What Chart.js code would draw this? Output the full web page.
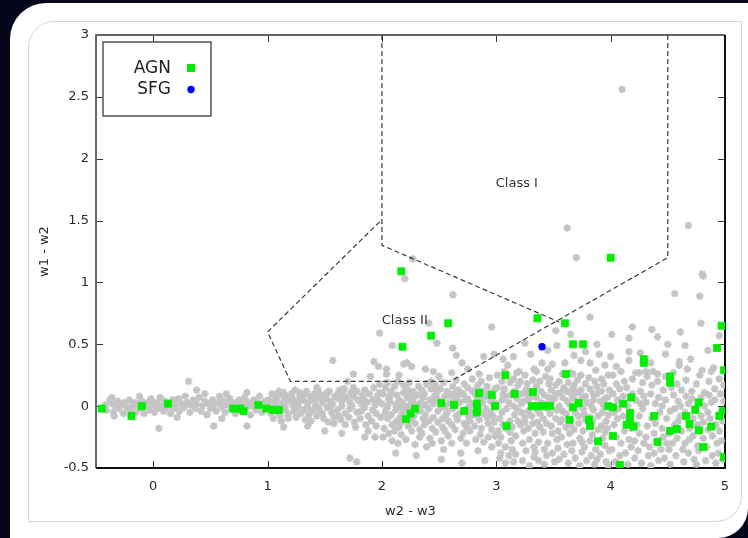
<!DOCTYPE html>
<html>
<head>
<meta charset="utf-8">
<title>WISE colour-colour diagram</title>
<script src="https://cdn.jsdelivr.net/npm/chart.js"></script>
<style>
    html, body {
        margin: 0;
        padding: 0;
    }
    body {
        width: 748px;
        height: 538px;
        position: relative;
        overflow: hidden;
        background-color: #06061a;
        font-family: 'DejaVu Sans', sans-serif;
    }
    #panel {
        position: absolute;
        left: 10px;
        top: 3px;
        width: 738px;
        height: 535px;
        background: #fff;
        border-radius: 36px 0 30px 0;
    }
    #inner {
        position: absolute;
        left: 28px;
        top: 21px;
        width: 714px;
        height: 501px;
        box-sizing: border-box;
        border: 1px solid #d6d6d6;
        border-radius: 26px 0 26px 0;
    }
    #plot {
        position: absolute;
        left: 0;
        top: 0;
    }
</style>
</head>
<body>
<div id="panel"></div>
<div id="inner"></div>
<canvas id="plot" width="748" height="538"></canvas>
<script>
    // axis ticks
    const xTicks = [0, 1, 2, 3, 4, 5];
    const yTicks = [-0.5, 0, 0.5, 1, 1.5, 2, 2.5, 3];

    // AGN sample (w2-w3, w1-w2)
    const agnPoints = [
        [-0.45, -0.02], [-0.19, -0.08], [-0.10, 0.0], [0.13, 0.02], [0.70, -0.02], [0.76, -0.02],
        [0.79, -0.04], [0.92, 0.01], [0.99, -0.02], [1.05, -0.03], [1.10, -0.03],
        [2.17, 1.09], [2.18, 0.48], [2.43, 0.57], [2.58, 0.67], [3.36, 0.71], [3.60, 0.67],
        [3.67, 0.50], [3.76, 0.50], [4.00, 1.20], [4.97, 0.65], [4.93, 0.47], [4.99, 0.29],
        [4.29, 0.38], [4.29, 0.35], [4.52, 0.24], [4.52, 0.19], [3.08, 0.25], [3.61, 0.26],
        [2.21, -0.105], [2.25, -0.06], [2.29, -0.02], [2.52, 0.025], [2.63, 0.01], [2.72, -0.04],
        [2.83, 0.02], [2.83, -0.02], [2.83, -0.05], [2.85, 0.105], [2.96, 0.09], [2.99, 0.0],
        [3.09, -0.16], [3.16, 0.10], [3.32, 0.115], [3.31, 0.0], [3.36, 0.0], [3.42, 0.0],
        [3.47, 0.0], [3.64, -0.11], [3.67, -0.01], [3.72, 0.025], [3.81, -0.11], [3.82, -0.16],
        [3.89, -0.285], [3.98, 0.0], [4.02, -0.01], [4.02, -0.24], [4.08, -0.475], [4.11, 0.02],
        [4.18, 0.07], [4.17, -0.055], [4.17, -0.105], [4.14, -0.15], [4.20, -0.165], [4.38, -0.08],
        [4.41, -0.29], [4.52, -0.20], [4.58, -0.185], [4.66, -0.08], [4.69, -0.145], [4.74, -0.03],
        [4.77, 0.03], [4.77, -0.195], [4.81, -0.33], [4.88, -0.165], [4.95, -0.08], [4.98, -0.04],
        [4.99, -0.41]
    ];

    // SFG sample
    const sfgPoints = [[3.40, 0.48]];

    // comparison field sources, split by w2-w3 range
    const fieldBand = [
        [-0.42, 0.01], [-0.41, -0.03], [-0.38, 0.05], [-0.36, 0.02], [-0.35, -0.05], [-0.33, 0.0], [-0.31, 0.04],
        [-0.30, -0.02], [-0.28, 0.01], [-0.26, -0.06], [-0.25, 0.03], [-0.23, -0.01], [-0.21, 0.05], [-0.20, -0.03],
        [-0.18, 0.0], [-0.16, 0.03], [-0.15, -0.05], [-0.13, 0.01], [-0.11, -0.02], [-0.10, 0.04], [-0.08, -0.06],
        [-0.07, 0.0], [-0.05, 0.03], [-0.03, -0.03], [-0.02, 0.06], [0.00, 0.01], [0.01, -0.05], [0.03, 0.03],
        [0.04, -0.02], [0.06, 0.07], [0.07, 0.0], [0.09, -0.04], [0.10, 0.04], [0.12, -0.01], [0.14, 0.02],
        [0.15, -0.06], [0.17, 0.05], [0.18, -0.02], [0.20, 0.01], [0.22, 0.06], [0.23, -0.04], [0.25, 0.02],
        [0.27, -0.01], [0.28, 0.08], [0.30, 0.03], [0.32, -0.05], [0.33, 0.01], [0.35, 0.05], [0.37, -0.02],
        [0.38, 0.02], [0.40, 0.07], [0.42, -0.04], [0.43, 0.0], [0.45, 0.04], [0.47, -0.07], [0.48, 0.02],
        [0.50, -0.02], [0.52, 0.05], [0.53, 0.0], [0.55, -0.04], [0.57, 0.03], [0.58, 0.08], [0.60, -0.01],
        [0.62, 0.04], [0.63, -0.05], [0.65, 0.01], [0.67, 0.06], [0.68, -0.02], [0.70, 0.03], [0.72, -0.06],
        [0.73, 0.0], [0.75, 0.05], [0.77, -0.03], [0.78, 0.02], [0.80, 0.07], [0.82, -0.01], [0.83, 0.03],
        [0.85, -0.07], [0.87, 0.0], [0.88, 0.05], [0.90, -0.03], [0.92, 0.02], [0.93, 0.08], [0.95, -0.05],
        [0.97, 0.01], [0.98, 0.04], [-0.36, 0.07], [-0.34, -0.08], [0.31, 0.20], [0.38, 0.13], [0.05, -0.18],
        [0.53, -0.16], [0.82, -0.16], [0.64, 0.10], [0.82, 0.11], [0.21, -0.09], [-0.12, 0.08], [0.60, -0.10],
        [0.45, 0.10]
    ];

    const fieldWide = [
        [1.01, 0.05], [1.03, -0.06], [1.02, 0.0], [1.04, 0.10], [1.05, -0.10], [1.06, 0.03], [1.05, -0.02], [1.07, 0.08],
        [1.08, 0.06], [1.09, -0.05], [1.10, 0.12], [1.08, -0.01], [1.12, 0.02], [1.11, -0.08], [1.13, 0.09], [1.12, -0.12],
        [1.15, 0.05], [1.16, -0.03], [1.14, 0.11], [1.15, 0.0], [1.18, -0.07], [1.19, 0.04], [1.17, 0.08], [1.18, -0.10],
        [1.22, 0.01], [1.21, 0.10], [1.23, -0.04], [1.22, 0.06], [1.25, -0.09], [1.26, 0.03], [1.24, 0.13], [1.25, -0.02],
        [1.28, 0.07], [1.29, -0.06], [1.27, 0.0], [1.28, 0.11], [1.32, -0.03], [1.31, 0.05], [1.33, -0.11], [1.32, 0.09],
        [1.35, 0.02], [1.36, -0.07], [1.34, 0.12], [1.35, -0.01], [1.38, 0.08], [1.39, -0.04], [1.37, 0.04], [1.38, -0.12],
        [1.42, 0.0], [1.41, 0.10], [1.43, -0.08], [1.42, 0.05], [1.45, -0.05], [1.46, 0.07], [1.44, 0.13], [1.45, -0.02],
        [1.48, 0.03], [1.49, -0.10], [1.47, 0.09], [1.48, -0.06], [1.52, -0.01], [1.51, 0.06], [1.53, -0.13], [1.52, 0.11],
        [1.55, 0.04], [1.56, -0.05], [1.54, 0.12], [1.55, 0.0], [1.58, -0.09], [1.59, 0.08], [1.57, 0.02], [1.58, -0.14],
        [1.62, 0.06], [1.61, -0.03], [1.63, 0.13], [1.62, -0.08], [1.65, 0.0], [1.66, 0.10], [1.64, -0.11], [1.65, 0.04],
        [1.68, -0.06], [1.69, 0.07], [1.67, 0.14], [1.68, -0.15], [1.72, 0.03], [1.71, -0.09], [1.73, 0.11], [1.72, -0.02],
        [1.75, 0.08], [1.76, -0.13], [1.74, 0.0], [1.75, 0.15], [1.78, -0.05], [1.79, 0.05], [1.77, -0.17], [1.78, 0.12],
        [1.82, 0.02], [1.81, -0.10], [1.83, 0.09], [1.82, -0.04], [1.85, 0.13], [1.86, -0.15], [1.84, 0.06], [1.85, -0.01],
        [1.88, -0.08], [1.89, 0.10], [1.87, 0.03], [1.88, -0.20], [1.92, 0.05], [1.91, -0.12], [1.93, 0.15], [1.92, -0.03],
        [1.95, -0.06], [1.96, 0.08], [1.94, 0.01], [1.95, -0.16], [1.98, 0.11], [1.99, -0.09], [1.97, 0.04], [1.98, 0.18],
        [1.14, -0.17], [1.43, 0.15], [1.52, 0.10], [1.57, 0.37], [1.62, 0.11], [1.75, 0.26], [1.72, -0.42], [1.78, -0.45],
        [1.85, -0.25], [1.94, -0.25], [1.93, 0.36], [1.97, 0.32], [1.98, 0.59], [1.50, -0.20], [1.65, -0.22], [1.35, -0.16],
        [1.70, 0.20], [1.90, 0.24]
    ];

    const fieldCore = [
        [2.01, 0.10], [2.03, -0.05], [2.02, -0.18], [2.00, 0.02], [2.03, 0.15], [2.01, -0.25],
        [2.05, -0.10], [2.06, 0.06], [2.04, -0.02], [2.05, 0.19], [2.06, -0.22], [2.05, 0.0],
        [2.08, 0.12], [2.09, -0.15], [2.07, 0.04], [2.08, -0.07], [2.09, -0.28], [2.07, 0.08],
        [2.12, -0.03], [2.11, 0.16], [2.13, -0.12], [2.12, 0.01], [2.11, -0.20], [2.13, 0.09],
        [2.15, 0.05], [2.16, -0.09], [2.14, 0.20], [2.15, -0.17], [2.16, -0.01], [2.14, -0.30],
        [2.18, -0.06], [2.19, 0.11], [2.17, -0.23], [2.18, 0.03], [2.19, 0.17], [2.17, -0.13],
        [2.22, 0.07], [2.21, -0.02], [2.23, -0.16], [2.22, 0.14], [2.21, -0.27], [2.23, 0.0],
        [2.25, -0.11], [2.26, 0.04], [2.24, 0.19], [2.25, -0.05], [2.26, -0.20], [2.24, 0.10],
        [2.28, 0.02], [2.29, -0.14], [2.27, 0.12], [2.28, -0.08], [2.29, -0.31], [2.27, 0.06],
        [2.32, -0.04], [2.31, 0.09], [2.33, -0.19], [2.32, 0.16], [2.31, 0.0], [2.33, -0.25],
        [2.35, 0.13], [2.36, -0.10], [2.34, 0.03], [2.35, -0.22], [2.36, 0.07], [2.34, -0.03],
        [2.38, -0.07], [2.39, 0.18], [2.37, -0.15], [2.38, 0.01], [2.39, -0.33], [2.37, 0.10],
        [2.42, 0.05], [2.41, -0.12], [2.43, 0.14], [2.42, -0.26], [2.41, -0.02], [2.43, 0.20],
        [2.45, -0.09], [2.46, 0.08], [2.44, -0.18], [2.45, 0.02], [2.46, 0.15], [2.44, -0.30],
        [2.48, 0.11], [2.49, -0.04], [2.47, -0.21], [2.48, 0.06], [2.49, -0.13], [2.47, 0.17],
        [2.52, -0.01], [2.51, 0.14], [2.53, -0.10], [2.52, -0.28], [2.51, 0.04], [2.53, -0.17],
        [2.55, 0.08], [2.56, -0.07], [2.54, 0.19], [2.55, -0.20], [2.56, 0.0], [2.54, -0.35],
        [2.58, -0.12], [2.59, 0.03], [2.57, 0.12], [2.58, -0.24], [2.59, 0.09], [2.57, -0.05],
        [2.62, 0.16], [2.61, -0.15], [2.63, 0.05], [2.62, -0.02], [2.61, -0.30], [2.63, 0.10],
        [2.65, -0.08], [2.66, 0.07], [2.64, -0.19], [2.65, 0.21], [2.66, -0.11], [2.64, 0.0],
        [2.68, 0.03], [2.69, -0.26], [2.67, 0.13], [2.68, -0.06], [2.69, -0.38], [2.67, 0.09],
        [2.72, -0.14], [2.71, 0.10], [2.73, -0.03], [2.72, 0.18], [2.71, -0.22], [2.73, 0.05],
        [2.75, 0.06], [2.76, -0.09], [2.74, -0.30], [2.75, 0.15], [2.76, -0.01], [2.74, -0.17],
        [2.78, -0.05], [2.79, 0.12], [2.77, -0.20], [2.78, 0.02], [2.79, 0.22], [2.77, -0.12],
        [2.82, 0.09], [2.81, -0.16], [2.83, 0.04], [2.82, -0.27], [2.81, -0.07], [2.83, 0.14],
        [2.85, -0.02], [2.86, -0.23], [2.84, 0.17], [2.85, -0.11], [2.86, 0.06], [2.84, -0.36],
        [2.88, 0.12], [2.89, -0.06], [2.87, -0.18], [2.88, 0.03], [2.89, -0.29], [2.87, 0.20],
        [2.92, -0.09], [2.91, 0.08], [2.93, -0.14], [2.92, 0.16], [2.91, -0.02], [2.93, -0.25],
        [2.95, 0.04], [2.96, -0.19], [2.94, 0.11], [2.95, -0.05], [2.96, -0.33], [2.94, 0.23],
        [2.98, -0.13], [2.99, 0.14], [2.97, -0.08], [2.98, 0.01], [2.99, -0.24], [2.97, 0.07],
        [2.09, 0.49], [2.19, 0.34], [2.26, 0.32], [2.04, 0.30], [2.04, 0.26], [2.27, 1.19], [2.20, 1.03],
        [2.62, 0.90], [2.96, 0.64], [2.41, 0.67], [2.48, 0.51], [2.62, 0.47], [2.65, 0.41], [2.22, 0.35],
        [2.38, 0.30], [2.61, 0.27], [2.89, 0.40], [2.98, 0.42], [2.50, 0.24], [2.75, 0.30], [2.85, 0.26],
        [2.30, -0.40], [2.52, -0.43], [2.70, -0.46], [2.90, -0.44], [2.12, -0.38], [2.45, 0.28], [2.70, 0.35],
        [2.15, 0.25]
    ];

    const fieldWing = [
        [3.01, 0.15], [3.03, -0.10], [3.02, -0.30], [3.00, 0.02], [3.03, -0.42], [3.01, 0.25], [3.02, -0.20],
        [3.05, -0.05], [3.06, 0.10], [3.04, -0.25], [3.05, 0.20], [3.06, -0.15], [3.04, -0.38], [3.05, 0.05],
        [3.08, 0.08], [3.09, -0.18], [3.07, 0.28], [3.08, -0.33], [3.09, -0.02], [3.07, 0.14], [3.08, -0.46],
        [3.12, -0.12], [3.11, 0.03], [3.13, -0.28], [3.12, 0.19], [3.11, -0.40], [3.13, 0.09], [3.12, -0.21],
        [3.15, 0.22], [3.16, -0.07], [3.14, -0.35], [3.15, 0.0], [3.16, 0.12], [3.14, -0.17], [3.15, -0.45],
        [3.18, -0.02], [3.19, 0.17], [3.17, -0.24], [3.18, 0.06], [3.19, -0.12], [3.17, -0.39], [3.18, 0.27],
        [3.22, 0.10], [3.21, -0.15], [3.23, -0.30], [3.22, -0.05], [3.21, 0.20], [3.23, -0.44], [3.22, 0.02],
        [3.25, -0.09], [3.26, 0.13], [3.24, -0.20], [3.25, 0.25], [3.26, -0.36], [3.24, 0.04], [3.25, -0.13],
        [3.28, 0.05], [3.29, -0.27], [3.27, 0.18], [3.28, -0.04], [3.29, -0.48], [3.27, 0.10], [3.28, -0.18],
        [3.32, -0.14], [3.31, 0.08], [3.33, -0.33], [3.32, 0.21], [3.31, -0.08], [3.33, -0.41], [3.32, 0.0],
        [3.35, 0.16], [3.36, -0.03], [3.34, -0.22], [3.35, 0.28], [3.36, -0.13], [3.34, -0.37], [3.35, 0.07],
        [3.38, -0.06], [3.39, 0.12], [3.37, -0.29], [3.38, -0.17], [3.39, 0.03], [3.37, -0.44], [3.38, 0.20],
        [3.42, 0.09], [3.41, -0.10], [3.43, 0.24], [3.42, -0.35], [3.41, -0.21], [3.43, 0.02], [3.42, -0.47],
        [3.45, -0.02], [3.46, 0.18], [3.44, -0.14], [3.45, -0.30], [3.46, 0.07], [3.44, -0.40], [3.45, 0.30],
        [3.48, 0.13], [3.49, -0.22], [3.47, -0.06], [3.48, 0.03], [3.49, -0.38], [3.47, 0.22], [3.48, -0.16],
        [3.52, -0.10], [3.51, 0.06], [3.53, -0.27], [3.52, 0.17], [3.51, -0.45], [3.53, -0.03], [3.52, 0.10],
        [3.55, 0.20], [3.56, -0.13], [3.54, -0.34], [3.55, 0.0], [3.56, 0.11], [3.54, -0.20], [3.55, -0.43],
        [3.58, -0.04], [3.59, 0.15], [3.57, -0.25], [3.58, 0.07], [3.59, -0.39], [3.57, -0.11], [3.58, 0.26],
        [3.62, 0.04], [3.61, -0.17], [3.63, 0.19], [3.62, -0.31], [3.61, -0.06], [3.63, -0.46], [3.62, 0.12],
        [3.65, -0.12], [3.66, 0.09], [3.64, -0.22], [3.65, 0.27], [3.66, -0.36], [3.64, 0.02], [3.65, -0.15],
        [3.68, 0.17], [3.69, -0.05], [3.67, -0.30], [3.68, 0.06], [3.69, -0.42], [3.67, 0.14], [3.68, -0.19],
        [3.72, -0.08], [3.71, 0.11], [3.73, -0.26], [3.72, -0.14], [3.71, 0.21], [3.73, -0.48], [3.72, 0.01],
        [3.75, 0.07], [3.76, -0.20], [3.74, 0.25], [3.75, -0.37], [3.76, -0.02], [3.74, 0.13], [3.75, -0.29],
        [3.78, -0.11], [3.79, 0.03], [3.77, -0.33], [3.78, 0.18], [3.79, -0.44], [3.77, -0.07], [3.78, 0.08],
        [3.82, 0.14], [3.81, -0.14], [3.83, 0.0], [3.82, -0.28], [3.81, 0.23], [3.83, -0.40], [3.82, -0.09],
        [3.85, -0.03], [3.86, 0.20], [3.84, -0.23], [3.85, 0.05], [3.86, -0.47], [3.84, -0.12], [3.85, 0.10],
        [3.88, 0.10], [3.89, -0.08], [3.87, -0.35], [3.88, 0.16], [3.89, -0.19], [3.87, 0.29], [3.88, -0.43],
        [3.92, -0.16], [3.91, 0.04], [3.93, -0.26], [3.92, 0.12], [3.91, -0.39], [3.93, -0.05], [3.92, 0.22],
        [3.95, 0.06], [3.96, -0.12], [3.94, 0.18], [3.95, -0.32], [3.96, -0.45], [3.94, 0.0], [3.95, -0.21],
        [3.98, -0.07], [3.99, 0.13], [3.97, -0.18], [3.98, 0.25], [3.99, -0.36], [3.97, 0.07], [3.98, -0.48],
        [3.06, 0.38], [3.25, 0.51], [3.52, 0.61], [3.65, 0.58], [3.53, 0.49], [3.68, 0.41], [3.49, 0.34],
        [3.33, 0.30], [3.74, 0.37], [3.62, 1.44], [3.70, 1.20], [3.82, 0.72], [3.90, 0.42], [3.78, 0.44],
        [3.82, 0.35], [3.67, 0.26], [3.10, 0.33], [3.40, 0.35], [3.20, 0.28], [3.45, 0.45], [3.15, 0.40],
        [3.60, 0.35], [3.95, 0.33], [3.88, 0.50], [3.30, 0.42]
    ];

    const fieldEdge = [
        [4.02, 0.10], [4.03, -0.15], [4.01, -0.35], [4.02, 0.25], [4.03, -0.05],
        [4.05, -0.25], [4.06, 0.05], [4.04, -0.45], [4.05, 0.18], [4.06, -0.10],
        [4.08, 0.14], [4.09, -0.30], [4.07, -0.02], [4.08, -0.40], [4.09, 0.28],
        [4.12, -0.20], [4.11, 0.08], [4.13, -0.38], [4.12, 0.20], [4.11, -0.08],
        [4.15, 0.0], [4.16, -0.27], [4.14, 0.15], [4.15, -0.47], [4.16, -0.12],
        [4.18, -0.33], [4.19, 0.22], [4.17, -0.05], [4.18, -0.18], [4.19, 0.10],
        [4.22, 0.05], [4.21, -0.42], [4.23, -0.15], [4.22, 0.27], [4.21, -0.28],
        [4.25, -0.08], [4.26, 0.12], [4.24, -0.36], [4.25, -0.22], [4.26, 0.02],
        [4.28, 0.19], [4.29, -0.30], [4.27, -0.46], [4.28, -0.02], [4.29, 0.08],
        [4.32, -0.16], [4.31, 0.03], [4.33, -0.40], [4.32, 0.24], [4.31, -0.25],
        [4.35, 0.10], [4.36, -0.10], [4.34, -0.33], [4.35, -0.48], [4.36, 0.17],
        [4.38, -0.22], [4.39, 0.02], [4.37, 0.28], [4.38, -0.38], [4.39, -0.14],
        [4.42, 0.07], [4.41, -0.28], [4.43, -0.05], [4.42, -0.44], [4.41, 0.20],
        [4.45, -0.18], [4.46, 0.13], [4.44, -0.35], [4.45, 0.0], [4.46, -0.25],
        [4.48, 0.24], [4.49, -0.10], [4.47, -0.42], [4.48, 0.05], [4.49, -0.30],
        [4.52, -0.04], [4.51, -0.22], [4.53, 0.15], [4.52, -0.47], [4.51, -0.35],
        [4.55, 0.09], [4.56, -0.15], [4.54, -0.30], [4.55, 0.27], [4.56, -0.02],
        [4.58, -0.26], [4.59, 0.04], [4.57, -0.40], [4.58, 0.18], [4.59, -0.12],
        [4.62, 0.13], [4.61, -0.08], [4.63, -0.35], [4.62, -0.20], [4.61, 0.0],
        [4.65, -0.30], [4.66, 0.21], [4.64, -0.45], [4.65, -0.05], [4.66, 0.08],
        [4.68, 0.02], [4.69, -0.18], [4.67, 0.30], [4.68, -0.38], [4.69, -0.27],
        [4.72, -0.10], [4.71, 0.12], [4.73, -0.43], [4.72, -0.24], [4.71, 0.06],
        [4.75, 0.18], [4.76, -0.32], [4.74, -0.02], [4.75, -0.47], [4.76, -0.15],
        [4.78, -0.20], [4.79, 0.07], [4.77, -0.36], [4.78, 0.25], [4.79, -0.08],
        [4.82, 0.11], [4.81, -0.26], [4.83, -0.44], [4.82, 0.0], [4.81, -0.13],
        [4.85, -0.05], [4.86, 0.20], [4.84, -0.33], [4.85, -0.19], [4.86, 0.09],
        [4.88, 0.03], [4.89, -0.40], [4.87, -0.10], [4.88, 0.28], [4.89, -0.24],
        [4.92, -0.15], [4.91, 0.14], [4.93, -0.30], [4.92, -0.46], [4.91, 0.05],
        [4.95, 0.22], [4.96, -0.06], [4.94, -0.38], [4.95, -0.20], [4.96, 0.10],
        [4.98, -0.12], [4.99, 0.04], [4.97, -0.28], [4.98, -0.43], [4.99, 0.17],
        [4.68, 1.46], [4.80, 1.07], [4.81, 1.05], [4.56, 0.91], [4.78, 0.89], [4.19, 0.64], [4.36, 0.62],
        [4.01, 0.58], [4.16, 0.55], [4.41, 0.56], [4.61, 0.60], [4.79, 0.67], [4.95, 0.57], [4.65, 0.49],
        [4.48, 0.42], [4.26, 0.43], [4.16, 0.44], [4.00, 0.40], [4.16, 0.37], [4.60, 0.36], [4.60, 0.33],
        [4.90, 0.31], [4.80, 0.29], [4.25, 0.27], [4.31, 0.28], [4.41, 0.26], [4.10, 2.56], [4.05, 0.32],
        [4.35, 0.35], [4.70, 0.38], [4.85, 0.45], [4.50, 0.50]
    ];

    // dashed region boundaries
    const classOneEdgeA = [[2, 3], [2, 1.3], [3.55, 0.68]];
    const classOneEdgeB = [[4.5, 3], [4.5, 1.2], [2.6, 0.2]];
    const classTwoEdge = [[1.98, 1.49], [1, 0.6], [1.2, 0.2], [2.6, 0.2]];

    const regionNames = ['Class I', 'Class II'];
    const regionSpots = [[3.18, 1.80], [2.20, 0.69]];

    const toXY = pts => pts.map(p => ({ x: p[0], y: p[1] }));
    const fieldPoints = [].concat(fieldBand, fieldWide, fieldCore, fieldWing, fieldEdge);

    Chart.defaults.font.family = "'DejaVu Sans', sans-serif";
    Chart.defaults.color = '#2a2a2a';

    function boundary(pts) {
        return {
            type: 'line',
            data: toXY(pts),
            borderColor: '#3c3c3c',
            borderWidth: 1.2,
            borderDash: [5, 3],
            pointRadius: 0,
            fill: false,
            tension: 0,
            order: 2
        };
    }

    // frame with inward ticks on all four sides, then legend and region names on top
    const framePlugin = {
        id: 'frame',
        beforeDatasetsDraw(chart) {
            const { ctx, chartArea: a, scales: { x, y } } = chart;
            ctx.save();
            ctx.lineWidth = 1;
            ctx.strokeStyle = '#333';
            ctx.beginPath();
            xTicks.forEach(v => {
                const px = Math.round(x.getPixelForValue(v)) + 0.5;
                ctx.moveTo(px, a.bottom); ctx.lineTo(px, a.bottom - 7);
                ctx.moveTo(px, a.top); ctx.lineTo(px, a.top + 7);
            });
            yTicks.forEach(v => {
                const py = Math.round(y.getPixelForValue(v)) + 0.5;
                ctx.moveTo(a.left, py); ctx.lineTo(a.left + 7, py);
                ctx.moveTo(a.right, py); ctx.lineTo(a.right - 7, py);
            });
            ctx.stroke();

            ctx.lineWidth = 2;
            ctx.strokeStyle = '#666';
            ctx.beginPath();
            ctx.moveTo(a.left, a.bottom);
            ctx.lineTo(a.left, a.top);
            ctx.lineTo(a.right, a.top);
            ctx.stroke();
            ctx.strokeStyle = '#111';
            ctx.beginPath();
            ctx.moveTo(a.right, a.top);
            ctx.lineTo(a.right, a.bottom);
            ctx.lineTo(a.left, a.bottom);
            ctx.stroke();
            ctx.restore();
        },
        afterDatasetsDraw(chart) {
            const { ctx, chartArea: a, scales: { x, y } } = chart;
            ctx.save();

            ctx.font = "13px 'DejaVu Sans', sans-serif";
            ctx.fillStyle = '#333';
            ctx.textAlign = 'center';
            ctx.textBaseline = 'middle';
            regionNames.forEach((name, i) => {
                ctx.fillText(name, x.getPixelForValue(regionSpots[i][0]), y.getPixelForValue(regionSpots[i][1]));
            });

            // key box
            const bx = a.left + 7, by = a.top + 7, bw = 108, bh = 74;
            ctx.fillStyle = '#fff';
            ctx.fillRect(bx, by, bw, bh);
            ctx.lineWidth = 1.5;
            ctx.strokeStyle = '#555';
            ctx.strokeRect(bx, by, bw, bh);

            ctx.font = "17px 'DejaVu Sans', sans-serif";
            ctx.fillStyle = '#222';
            ctx.textAlign = 'right';
            ctx.fillText('AGN', bx + 68, by + 27);
            ctx.fillText('SFG', bx + 68, by + 48);

            ctx.fillStyle = '#00ee00';
            ctx.fillRect(bx + 84, by + 22, 8, 8);
            ctx.fillStyle = '#0000ff';
            ctx.beginPath();
            ctx.arc(bx + 88, by + 47.5, 3.7, 0, Math.PI * 2);
            ctx.fill();
            ctx.restore();
        }
    };

    new Chart(document.getElementById('plot'), {
        type: 'scatter',
        data: {
            datasets: [
                {
                    label: 'SFG',
                    data: toXY(sfgPoints),
                    pointStyle: 'circle',
                    pointRadius: 3.7,
                    backgroundColor: '#0000ff',
                    borderWidth: 0,
                    order: 0
                },
                {
                    label: 'AGN',
                    data: toXY(agnPoints),
                    pointStyle: 'rect',
                    pointRadius: 5,
                    backgroundColor: '#00ee00',
                    borderColor: '#00ee00',
                    borderWidth: 0.8,
                    order: 1
                },
                boundary(classOneEdgeA),
                boundary(classOneEdgeB),
                boundary(classTwoEdge),
                {
                    label: 'field',
                    data: toXY(fieldPoints),
                    pointStyle: 'star',
                    pointRadius: 3.8,
                    borderColor: '#c4c4c4',
                    backgroundColor: '#c4c4c4',
                    borderWidth: 1.9,
                    order: 3
                }
            ]
        },
        options: {
            responsive: false,
            animation: false,
            devicePixelRatio: 1,
            layout: { padding: { left: 0, top: 35, right: 23, bottom: 0 } },
            plugins: {
                legend: { display: false },
                tooltip: { enabled: false }
            },
            scales: {
                x: {
                    type: 'linear',
                    min: -0.5,
                    max: 5,
                    afterBuildTicks: s => { s.ticks = xTicks.map(v => ({ value: v })); },
                    afterFit: s => { s.height = 70; },
                    grid: { display: false, drawTicks: false },
                    border: { display: false },
                    ticks: { padding: 11, font: { size: 13 }, callback: v => String(v) },
                    title: { display: true, text: 'w2 - w3', font: { size: 13 }, padding: { top: 0, bottom: 19 } }
                },
                y: {
                    type: 'linear',
                    min: -0.5,
                    max: 3,
                    afterBuildTicks: s => { s.ticks = yTicks.map(v => ({ value: v })); },
                    afterFit: s => { s.width = 96; },
                    grid: { display: false, drawTicks: false },
                    border: { display: false },
                    ticks: { padding: 7, font: { size: 13 }, callback: v => String(v) },
                    title: { display: true, text: 'w1 - w2', font: { size: 13 }, padding: { top: 37, bottom: 0 } }
                }
            }
        },
        plugins: [framePlugin]
    });
</script>
</body>
</html>
